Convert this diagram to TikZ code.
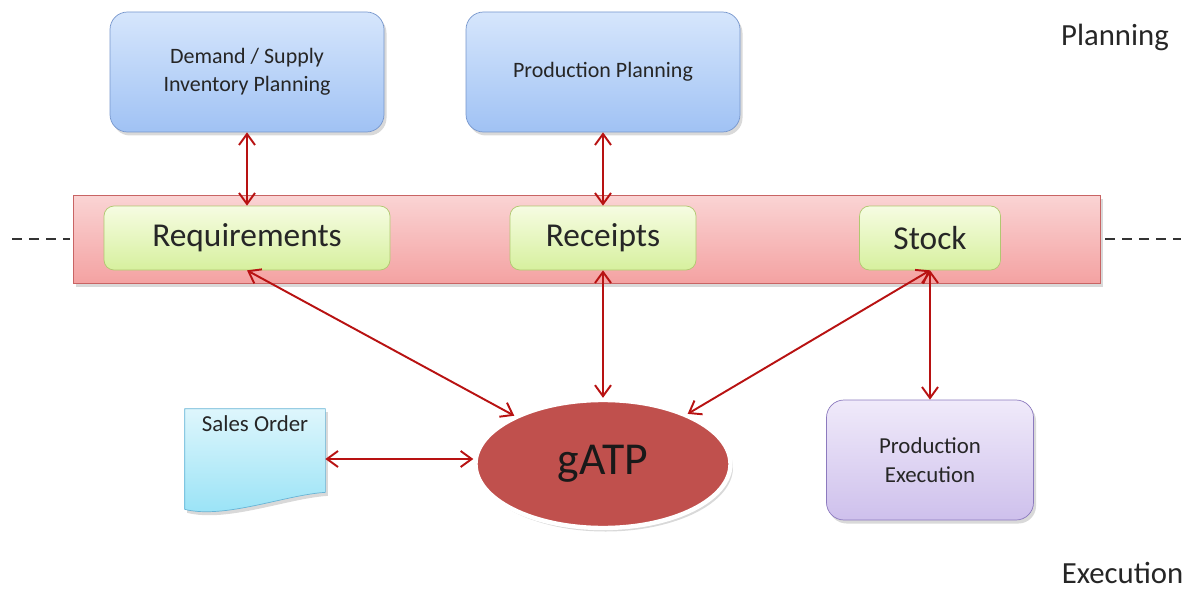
\documentclass[tikz,border=0pt]{standalone}
\usepackage{fontspec}
\setmainfont{Carlito}
\usetikzlibrary{shapes.geometric, arrows.meta, shadows, positioning}

\definecolor{plantop}{RGB}{214,230,252}
\definecolor{planbot}{RGB}{160,194,244}
\definecolor{planedge}{RGB}{118,150,204}
\definecolor{bandtop}{RGB}{250,212,212}
\definecolor{bandbot}{RGB}{244,162,162}
\definecolor{bandedge}{RGB}{200,100,100}
\definecolor{itemtop}{RGB}{246,252,226}
\definecolor{itembot}{RGB}{214,240,158}
\definecolor{itemedge}{RGB}{176,200,112}
\definecolor{doctop}{RGB}{222,246,252}
\definecolor{docbot}{RGB}{150,226,246}
\definecolor{docedge}{RGB}{104,180,214}
\definecolor{exectop}{RGB}{240,234,250}
\definecolor{execbot}{RGB}{206,192,236}
\definecolor{execedge}{RGB}{140,122,190}
\definecolor{corered}{RGB}{192,80,77}
\definecolor{linkred}{RGB}{184,18,18}

\tikzstyle{shadowed} = [drop shadow={opacity=0.3, shadow xshift=0.05cm, shadow yshift=-0.07cm}]
\tikzstyle{plan} = [rectangle, rounded corners=0.35cm, minimum width=5.48cm, minimum height=2.4cm, align=center, text=black!85, font=\fontsize{12.5}{16}\selectfont, draw=planedge, top color=plantop, bottom color=planbot, shadowed]
\tikzstyle{band} = [rectangle, minimum width=20.54cm, minimum height=1.76cm, draw=bandedge, top color=bandtop, bottom color=bandbot, shadowed]
\tikzstyle{item} = [rectangle, rounded corners=0.2cm, minimum height=1.28cm, text=black!85, font=\fontsize{19}{22}\selectfont, draw=itemedge, top color=itemtop, bottom color=itembot]
\tikzstyle{core} = [ellipse, minimum width=5.1cm, minimum height=2.56cm, fill=corered, draw=white, line width=2.5pt, text=black!90, font=\fontsize{26}{30}\selectfont, shadowed]
\tikzstyle{exec} = [rectangle, rounded corners=0.35cm, minimum width=4.14cm, minimum height=2.4cm, align=center, text=black!85, font=\fontsize{13}{16.5}\selectfont, draw=execedge, top color=exectop, bottom color=execbot, shadowed]
\tikzstyle{doc} = [rectangle, minimum width=2.8cm, minimum height=2.0cm]
\tikzstyle{level} = [text=black!85, font=\fontsize{17.5}{20}\selectfont, inner sep=1pt]
\tikzstyle{arrow} = [draw=linkred, line width=1.1pt, {Straight Barb[length=2.2mm,width=3.2mm]}-{Straight Barb[length=2.2mm,width=3.2mm]}]
\tikzstyle{guide} = [draw=black!80, line width=1.1pt, dash pattern=on 0.2cm off 0.14cm]

\begin{document}
\begin{tikzpicture}[node distance=3.32cm]
\useasboundingbox (0,0) rectangle (23.84,-11.78);

%middle band
\node (band) [band] at (11.73,-4.78) {};
\node (req) [item, minimum width=5.72cm] at (4.94,-4.76) {Requirements};
\node (rec) [item, minimum width=3.72cm, right of=req, xshift=3.8cm] {Receipts};
\node (stock) [item, minimum width=2.82cm, right of=rec, xshift=3.22cm] {Stock};

%planning row
\node (dem) [plan, above of=req] {Demand / Supply\\Inventory Planning};
\node (pp) [plan, above of=rec] {Production Planning};

%execution row
\node (gatp) [core, below of=rec, yshift=-1.2cm] {gATP};
\node (pe) [exec, below of=stock, yshift=-1.12cm] {Production\\Execution};
\node (so) [doc, left of=gatp, xshift=-3.64cm, yshift=0.1cm] {};
\shade [top color=doctop, bottom color=docbot, draw=docedge, shadowed]
  (so.north west) -- (so.north east) -- ([yshift=0.34cm]so.south east)
  .. controls +(-0.8,-0.05) and +(0.8,-0.2) .. (so.south west) -- cycle;
\node (sotext) [below=0.02cm of so.north, text=black!85, font=\fontsize{13}{16}\selectfont] {Sales Order};

%side labels
\node (planlbl) [level] at (22.3,-0.74) {Planning};
\node (execlbl) [level] at (22.45,-11.46) {Execution};

%dashed guides
\coordinate (gl) at (0.24,-4.78);
\coordinate (gr) at (23.62,-4.78);
\draw [guide] (gl) -- ([xshift=-0.06cm]band.west);
\draw [guide] ([xshift=0.1cm]band.east) -- (gr);

%arrows
\draw [arrow] (dem) -- (req);
\draw [arrow] (pp) -- (rec);
\draw [arrow] (req.south) -- (gatp);
\draw [arrow] (rec) -- (gatp);
\draw [arrow] (stock.south) -- (gatp);
\draw [arrow] (stock) -- (pe);
\draw [arrow] (so.east) -- (so.east -| gatp.west);

\end{tikzpicture}
\end{document}
